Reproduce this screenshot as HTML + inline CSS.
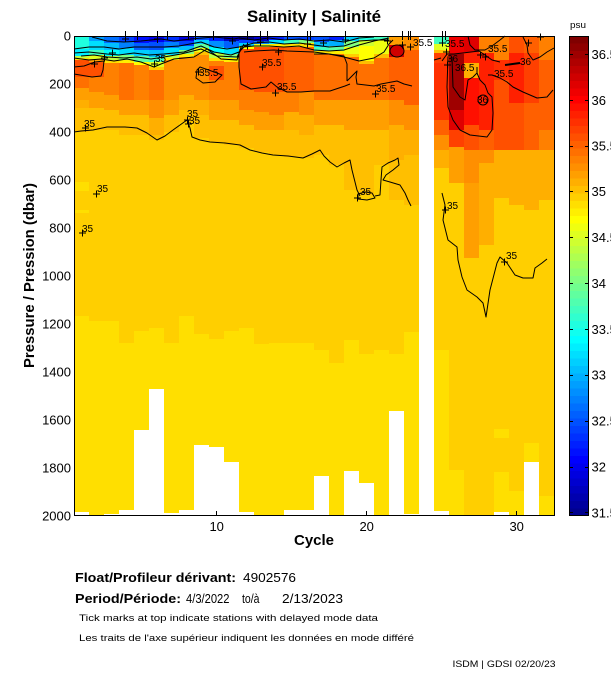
<!DOCTYPE html>
<html><head><meta charset="utf-8"><style>
html,body{margin:0;padding:0;background:#fff;}
svg{display:block;font-family:"Liberation Sans",Arial,Helvetica,sans-serif;}
</style></head><body>
<svg width="611" height="675" viewBox="0 0 611 675" xmlns="http://www.w3.org/2000/svg">
<rect x="0" y="0" width="611" height="675" fill="#fff"/>
<text x="247" y="22" font-size="17" font-weight="bold" textLength="134" lengthAdjust="spacingAndGlyphs">Salinity | Salinité</text>
<text x="570" y="28" font-size="9" textLength="16" lengthAdjust="spacingAndGlyphs">psu</text>
<g shape-rendering="crispEdges">
<rect x="74" y="36" width="480" height="480" fill="#FFDF00"/>
<!-- col1 -->
<rect x="74" y="36" width="15" height="13" fill="#20FFDF"/><rect x="74" y="49" width="15" height="7" fill="#00EFFF"/><rect x="74" y="56" width="15" height="2" fill="#BFFF40"/><rect x="74" y="58" width="15" height="2" fill="#FFDF00"/><rect x="74" y="60" width="15" height="17" fill="#FF5000"/><rect x="74" y="77" width="15" height="11" fill="#FF7000"/><rect x="74" y="88" width="15" height="12" fill="#FF9F00"/><rect x="74" y="100" width="15" height="8" fill="#FFAF00"/><rect x="74" y="108" width="15" height="24" fill="#FFBF00"/><rect x="74" y="132" width="15" height="184" fill="#FFCF00"/><rect x="74" y="182" width="15" height="9" fill="#FFDF00"/><rect x="74" y="210" width="15" height="3" fill="#FFDF00"/>
<!-- col2 -->
<rect x="89" y="36" width="15" height="5" fill="#009FFF"/><rect x="89" y="41" width="15" height="9" fill="#00DFFF"/><rect x="89" y="50" width="15" height="5" fill="#40FFBF"/><rect x="89" y="55" width="15" height="4" fill="#DFFF20"/><rect x="89" y="59" width="15" height="3" fill="#FF9F00"/><rect x="89" y="62" width="15" height="15" fill="#FF5000"/><rect x="89" y="77" width="15" height="15" fill="#FF8000"/><rect x="89" y="92" width="15" height="16" fill="#FF9F00"/><rect x="89" y="108" width="15" height="22" fill="#FFBF00"/><rect x="89" y="130" width="15" height="191" fill="#FFCF00"/>
<!-- col3 -->
<rect x="104" y="36" width="15" height="7" fill="#0070FF"/><rect x="104" y="43" width="15" height="7" fill="#00BFFF"/><rect x="104" y="50" width="15" height="6" fill="#00FFFF"/><rect x="104" y="56" width="15" height="4" fill="#BFFF40"/><rect x="104" y="60" width="15" height="3" fill="#FFDF00"/><rect x="104" y="63" width="15" height="32" fill="#FF8000"/><rect x="104" y="95" width="15" height="15" fill="#FF9F00"/><rect x="104" y="110" width="15" height="20" fill="#FFBF00"/><rect x="104" y="130" width="15" height="191" fill="#FFCF00"/>
<!-- col4 -->
<rect x="119" y="36" width="15" height="6" fill="#0040FF"/><rect x="119" y="42" width="15" height="6" fill="#0080FF"/><rect x="119" y="48" width="15" height="7" fill="#00DFFF"/><rect x="119" y="55" width="15" height="5" fill="#80FF80"/><rect x="119" y="60" width="15" height="3" fill="#FFEF00"/><rect x="119" y="63" width="15" height="37" fill="#FF7000"/><rect x="119" y="100" width="15" height="15" fill="#FF9F00"/><rect x="119" y="115" width="15" height="20" fill="#FFBF00"/><rect x="119" y="135" width="15" height="208" fill="#FFCF00"/>
<!-- col5 -->
<rect x="134" y="36" width="15" height="7" fill="#0010FF"/><rect x="134" y="43" width="15" height="7" fill="#0060FF"/><rect x="134" y="50" width="15" height="6" fill="#00CFFF"/><rect x="134" y="56" width="15" height="6" fill="#60FF9F"/><rect x="134" y="62" width="15" height="3" fill="#FFFF00"/><rect x="134" y="65" width="15" height="35" fill="#FF8000"/><rect x="134" y="100" width="15" height="15" fill="#FF9F00"/><rect x="134" y="115" width="15" height="20" fill="#FFBF00"/><rect x="134" y="135" width="15" height="196" fill="#FFCF00"/>
<!-- col6 -->
<rect x="149" y="36" width="15" height="6" fill="#0000EF"/><rect x="149" y="42" width="15" height="8" fill="#0050FF"/><rect x="149" y="50" width="15" height="7" fill="#00BFFF"/><rect x="149" y="57" width="15" height="5" fill="#40FFBF"/><rect x="149" y="62" width="15" height="5" fill="#DFFF20"/><rect x="149" y="67" width="15" height="3" fill="#FFCF00"/><rect x="149" y="70" width="15" height="30" fill="#FF7000"/><rect x="149" y="100" width="15" height="18" fill="#FF8F00"/><rect x="149" y="118" width="15" height="17" fill="#FFAF00"/><rect x="149" y="135" width="15" height="5" fill="#FFBF00"/><rect x="149" y="140" width="15" height="188" fill="#FFCF00"/>
<!-- col7 -->
<rect x="164" y="36" width="15" height="6" fill="#0030FF"/><rect x="164" y="42" width="15" height="6" fill="#0080FF"/><rect x="164" y="48" width="15" height="7" fill="#00DFFF"/><rect x="164" y="55" width="15" height="3" fill="#BFFF40"/><rect x="164" y="58" width="15" height="2" fill="#FFEF00"/><rect x="164" y="60" width="15" height="40" fill="#FF8F00"/><rect x="164" y="100" width="15" height="15" fill="#FF9F00"/><rect x="164" y="115" width="15" height="17" fill="#FFBF00"/><rect x="164" y="132" width="15" height="211" fill="#FFCF00"/>
<!-- col8 -->
<rect x="179" y="36" width="15" height="5" fill="#0000DF"/><rect x="179" y="41" width="15" height="5" fill="#0040FF"/><rect x="179" y="46" width="15" height="4" fill="#00BFFF"/><rect x="179" y="50" width="15" height="4" fill="#80FF80"/><rect x="179" y="54" width="15" height="3" fill="#FFEF00"/><rect x="179" y="57" width="15" height="38" fill="#FF8F00"/><rect x="179" y="95" width="15" height="15" fill="#FFAF00"/><rect x="179" y="110" width="15" height="12" fill="#FFBF00"/><rect x="179" y="122" width="15" height="194" fill="#FFCF00"/>
<!-- col9 -->
<rect x="194" y="36" width="15" height="4" fill="#0050FF"/><rect x="194" y="40" width="15" height="4" fill="#00CFFF"/><rect x="194" y="44" width="15" height="4" fill="#60FF9F"/><rect x="194" y="48" width="15" height="4" fill="#EFFF10"/><rect x="194" y="52" width="15" height="3" fill="#FFBF00"/><rect x="194" y="55" width="15" height="45" fill="#FF8F00"/><rect x="194" y="100" width="15" height="15" fill="#FFAF00"/><rect x="194" y="115" width="15" height="23" fill="#FFBF00"/><rect x="194" y="138" width="15" height="196" fill="#FFCF00"/>
<!-- col10 -->
<rect x="209" y="36" width="15" height="5" fill="#0020FF"/><rect x="209" y="41" width="15" height="6" fill="#008FFF"/><rect x="209" y="47" width="15" height="6" fill="#00FFFF"/><rect x="209" y="53" width="15" height="5" fill="#BFFF40"/><rect x="209" y="58" width="15" height="3" fill="#FFDF00"/><rect x="209" y="61" width="15" height="5" fill="#FF8000"/><rect x="209" y="66" width="15" height="14" fill="#FF5000"/><rect x="209" y="80" width="15" height="20" fill="#FF8000"/><rect x="209" y="100" width="15" height="20" fill="#FF9F00"/><rect x="209" y="120" width="15" height="22" fill="#FFBF00"/><rect x="209" y="142" width="15" height="197" fill="#FFCF00"/>
<!-- col11 -->
<rect x="224" y="36" width="15" height="5" fill="#0000BF"/><rect x="224" y="41" width="15" height="7" fill="#0060FF"/><rect x="224" y="48" width="15" height="6" fill="#00DFFF"/><rect x="224" y="54" width="15" height="4" fill="#80FF80"/><rect x="224" y="58" width="15" height="4" fill="#FFEF00"/><rect x="224" y="62" width="15" height="38" fill="#FF8000"/><rect x="224" y="100" width="15" height="20" fill="#FF9F00"/><rect x="224" y="120" width="15" height="25" fill="#FFBF00"/><rect x="224" y="145" width="15" height="186" fill="#FFCF00"/>
<!-- col12 -->
<rect x="239" y="36" width="15" height="4" fill="#00008F"/><rect x="239" y="40" width="15" height="3" fill="#0040FF"/><rect x="239" y="43" width="15" height="3" fill="#00CFFF"/><rect x="239" y="46" width="15" height="3" fill="#FFFF00"/><rect x="239" y="49" width="15" height="41" fill="#FF5000"/><rect x="239" y="90" width="15" height="20" fill="#FF8000"/><rect x="239" y="110" width="15" height="15" fill="#FF9F00"/><rect x="239" y="125" width="15" height="23" fill="#FFBF00"/><rect x="239" y="148" width="15" height="180" fill="#FFCF00"/>
<!-- col13 -->
<rect x="254" y="36" width="15" height="5" fill="#0000CF"/><rect x="254" y="41" width="15" height="3" fill="#0080FF"/><rect x="254" y="44" width="15" height="3" fill="#DFFF20"/><rect x="254" y="47" width="15" height="45" fill="#FF5000"/><rect x="254" y="92" width="15" height="20" fill="#FF8000"/><rect x="254" y="112" width="15" height="18" fill="#FF9F00"/><rect x="254" y="130" width="15" height="22" fill="#FFBF00"/><rect x="254" y="152" width="15" height="192" fill="#FFCF00"/>
<!-- col14 -->
<rect x="269" y="36" width="15" height="4" fill="#0020FF"/><rect x="269" y="40" width="15" height="4" fill="#00DFFF"/><rect x="269" y="44" width="15" height="3" fill="#FFEF00"/><rect x="269" y="47" width="15" height="45" fill="#FF5000"/><rect x="269" y="92" width="15" height="23" fill="#FF8000"/><rect x="269" y="115" width="15" height="15" fill="#FF9F00"/><rect x="269" y="130" width="15" height="25" fill="#FFBF00"/><rect x="269" y="155" width="15" height="188" fill="#FFCF00"/>
<!-- col15 -->
<rect x="284" y="36" width="15" height="4" fill="#0050FF"/><rect x="284" y="40" width="15" height="4" fill="#40FFBF"/><rect x="284" y="44" width="15" height="3" fill="#FFDF00"/><rect x="284" y="47" width="15" height="45" fill="#FF6000"/><rect x="284" y="92" width="15" height="20" fill="#FF8000"/><rect x="284" y="112" width="15" height="18" fill="#FFAF00"/><rect x="284" y="130" width="15" height="27" fill="#FFBF00"/><rect x="284" y="157" width="15" height="186" fill="#FFCF00"/>
<!-- col16 -->
<rect x="299" y="36" width="15" height="4" fill="#0040FF"/><rect x="299" y="40" width="15" height="3" fill="#80FF80"/><rect x="299" y="43" width="15" height="4" fill="#FFDF00"/><rect x="299" y="47" width="15" height="45" fill="#FF6000"/><rect x="299" y="92" width="15" height="23" fill="#FF8F00"/><rect x="299" y="115" width="15" height="20" fill="#FFAF00"/><rect x="299" y="135" width="15" height="23" fill="#FFBF00"/><rect x="299" y="158" width="15" height="185" fill="#FFCF00"/>
<!-- col17 -->
<rect x="314" y="36" width="15" height="6" fill="#0050FF"/><rect x="314" y="42" width="15" height="5" fill="#00BFFF"/><rect x="314" y="47" width="15" height="4" fill="#40FFBF"/><rect x="314" y="51" width="15" height="3" fill="#FFDF00"/><rect x="314" y="54" width="15" height="46" fill="#FF7000"/><rect x="314" y="100" width="15" height="25" fill="#FF9F00"/><rect x="314" y="125" width="15" height="30" fill="#FFBF00"/><rect x="314" y="155" width="15" height="195" fill="#FFCF00"/>
<!-- col18 -->
<rect x="329" y="36" width="15" height="4" fill="#0020FF"/><rect x="329" y="40" width="15" height="6" fill="#00AFFF"/><rect x="329" y="46" width="15" height="5" fill="#60FF9F"/><rect x="329" y="51" width="15" height="3" fill="#FFEF00"/><rect x="329" y="54" width="15" height="46" fill="#FF7000"/><rect x="329" y="100" width="15" height="25" fill="#FF9F00"/><rect x="329" y="125" width="15" height="40" fill="#FFBF00"/><rect x="329" y="165" width="15" height="198" fill="#FFCF00"/>
<!-- col19 -->
<rect x="344" y="36" width="15" height="5" fill="#00CFFF"/><rect x="344" y="41" width="15" height="6" fill="#80FF80"/><rect x="344" y="47" width="15" height="7" fill="#EFFF10"/><rect x="344" y="54" width="15" height="3" fill="#FFCF00"/><rect x="344" y="57" width="15" height="43" fill="#FF7000"/><rect x="344" y="100" width="15" height="30" fill="#FF9F00"/><rect x="344" y="130" width="15" height="60" fill="#FFBF00"/><rect x="344" y="190" width="15" height="150" fill="#FFCF00"/>
<!-- col20 -->
<rect x="359" y="36" width="15" height="4" fill="#20FFDF"/><rect x="359" y="40" width="15" height="6" fill="#CFFF30"/><rect x="359" y="46" width="15" height="15" fill="#FFFF00"/><rect x="359" y="61" width="15" height="3" fill="#FFBF00"/><rect x="359" y="64" width="15" height="36" fill="#FF7000"/><rect x="359" y="100" width="15" height="30" fill="#FF9F00"/><rect x="359" y="130" width="15" height="65" fill="#FFBF00"/><rect x="359" y="195" width="15" height="159" fill="#FFCF00"/>
<!-- col21 -->
<rect x="374" y="36" width="15" height="4" fill="#40FFBF"/><rect x="374" y="40" width="15" height="14" fill="#EFFF10"/><rect x="374" y="54" width="15" height="4" fill="#FFBF00"/><rect x="374" y="58" width="15" height="42" fill="#FF7000"/><rect x="374" y="100" width="15" height="30" fill="#FF9F00"/><rect x="374" y="130" width="15" height="35" fill="#FFBF00"/><rect x="374" y="165" width="15" height="185" fill="#FFCF00"/>
<!-- col22 -->
<rect x="389" y="36" width="15" height="9" fill="#FF9F00"/><rect x="389" y="45" width="15" height="12" fill="#CF0000"/><rect x="389" y="57" width="15" height="43" fill="#FF6000"/><rect x="389" y="100" width="15" height="25" fill="#FF8F00"/><rect x="389" y="125" width="15" height="35" fill="#FFAF00"/><rect x="389" y="160" width="15" height="40" fill="#FFBF00"/><rect x="389" y="200" width="15" height="154" fill="#FFCF00"/>
<!-- col23 -->
<rect x="404" y="36" width="15" height="14" fill="#FF8F00"/><rect x="404" y="50" width="15" height="55" fill="#FF6000"/><rect x="404" y="105" width="15" height="25" fill="#FF8F00"/><rect x="404" y="130" width="15" height="25" fill="#FFAF00"/><rect x="404" y="155" width="15" height="50" fill="#FFBF00"/><rect x="404" y="205" width="15" height="127" fill="#FFCF00"/>
<!-- col25 -->
<rect x="434" y="36" width="15" height="8" fill="#40FFBF"/><rect x="434" y="44" width="15" height="6" fill="#DFFF20"/><rect x="434" y="50" width="15" height="3" fill="#FFBF00"/><rect x="434" y="53" width="15" height="10" fill="#FF4000"/><rect x="434" y="63" width="15" height="57" fill="#FF3000"/><rect x="434" y="120" width="15" height="15" fill="#FF6000"/><rect x="434" y="135" width="15" height="15" fill="#FF8F00"/><rect x="434" y="150" width="15" height="18" fill="#FFAF00"/><rect x="434" y="168" width="15" height="182" fill="#FFCF00"/>
<!-- col26 -->
<rect x="449" y="36" width="15" height="18" fill="#EF0000"/><rect x="449" y="54" width="15" height="56" fill="#9F0000"/><rect x="449" y="110" width="15" height="20" fill="#DF0000"/><rect x="449" y="130" width="15" height="17" fill="#FF4000"/><rect x="449" y="147" width="15" height="36" fill="#FF9F00"/><rect x="449" y="183" width="15" height="287" fill="#FFCF00"/>
<!-- col27 -->
<rect x="464" y="36" width="15" height="16" fill="#DF0000"/><rect x="464" y="52" width="15" height="11" fill="#FF2000"/><rect x="464" y="63" width="15" height="15" fill="#FFAF00"/><rect x="464" y="78" width="15" height="47" fill="#FF1000"/><rect x="464" y="125" width="15" height="25" fill="#FF5000"/><rect x="464" y="150" width="15" height="33" fill="#FF8F00"/><rect x="464" y="183" width="15" height="75" fill="#FF9F00"/><rect x="464" y="258" width="15" height="258" fill="#FFCF00"/>
<!-- col28 -->
<rect x="479" y="36" width="15" height="17" fill="#FF8000"/><rect x="479" y="53" width="15" height="77" fill="#FF2000"/><rect x="479" y="130" width="15" height="20" fill="#FF6000"/><rect x="479" y="150" width="15" height="13" fill="#FF8F00"/><rect x="479" y="163" width="15" height="82" fill="#FFAF00"/><rect x="479" y="245" width="15" height="271" fill="#FFCF00"/>
<!-- col29 -->
<rect x="494" y="36" width="15" height="24" fill="#FF8000"/><rect x="494" y="60" width="15" height="20" fill="#FF3000"/><rect x="494" y="80" width="15" height="70" fill="#FF5000"/><rect x="494" y="150" width="15" height="48" fill="#FFAF00"/><rect x="494" y="198" width="15" height="231" fill="#FFCF00"/><rect x="494" y="438" width="15" height="34" fill="#FFCF00"/>
<!-- col30 -->
<rect x="509" y="36" width="15" height="17" fill="#FF5000"/><rect x="509" y="53" width="15" height="50" fill="#FF2000"/><rect x="509" y="103" width="15" height="47" fill="#FF5000"/><rect x="509" y="150" width="15" height="55" fill="#FFAF00"/><rect x="509" y="205" width="15" height="286" fill="#FFCF00"/>
<!-- col31 -->
<rect x="524" y="36" width="15" height="17" fill="#FF6000"/><rect x="524" y="53" width="15" height="50" fill="#FF4000"/><rect x="524" y="103" width="15" height="47" fill="#FF6000"/><rect x="524" y="150" width="15" height="60" fill="#FFAF00"/><rect x="524" y="210" width="15" height="233" fill="#FFCF00"/>
<!-- col32 -->
<rect x="539" y="36" width="15" height="24" fill="#FF8000"/><rect x="539" y="60" width="15" height="70" fill="#FF6000"/><rect x="539" y="130" width="15" height="20" fill="#FF8000"/><rect x="539" y="150" width="15" height="50" fill="#FFAF00"/><rect x="539" y="200" width="15" height="296" fill="#FFCF00"/>
<!-- white gaps -->
<g fill="#fff">
<rect x="74" y="512" width="15" height="4"/><rect x="104" y="514" width="15" height="2"/><rect x="119" y="510" width="15" height="6"/><rect x="134" y="430" width="15" height="86"/><rect x="149" y="389" width="15" height="127"/><rect x="164" y="513" width="15" height="3"/><rect x="179" y="510" width="15" height="6"/><rect x="194" y="445" width="15" height="71"/><rect x="209" y="447" width="15" height="69"/><rect x="224" y="462" width="15" height="54"/><rect x="239" y="512" width="15" height="4"/><rect x="254" y="515" width="15" height="1"/><rect x="269" y="515" width="15" height="1"/><rect x="284" y="510" width="15" height="6"/><rect x="299" y="510" width="15" height="6"/><rect x="314" y="476" width="15" height="40"/><rect x="329" y="515" width="15" height="1"/><rect x="344" y="471" width="15" height="45"/><rect x="359" y="483" width="15" height="33"/><rect x="374" y="515" width="15" height="1"/><rect x="389" y="411" width="15" height="105"/><rect x="404" y="514" width="15" height="2"/><rect x="419" y="36" width="15" height="480"/><rect x="434" y="511" width="15" height="5"/><rect x="494" y="512" width="15" height="4"/><rect x="524" y="462" width="15" height="54"/>
</g>
</g>
<!-- contour lines -->
<g fill="none" stroke="#000" stroke-width="1" stroke-linejoin="round">
<path d="M74,132 L81,131 L93,130 L107,127 L125,127 L137,128 L147,133 L157,140 L165,136 L173,130 L180,125 L187,120 L190,128 L192,137 L200,140 L210,142 L225,143 L240,145 L250,150 L262,153 L273,155 L288,156 L303,158 L312,154 L320,150 L324,156 L330,162 L337,167 L344,163 L350,160 L352,170 L355,182 L357,190 L360,196"/>
<path d="M358,194 L365,192 L372,193 L375,198 L367,200 L358,199 Z"/>
<path d="M375,196 L380,195 L381,180 L382,167 L388,163 L395,160 L398,158 L399,165 L393,170 L386,175 L383,180 L390,182 L400,185 L405,193 L408,200 L411,206"/>
<path d="M442,193 L445,205 L443,220 L445,228 L448,240 L457,247 L458,260 L462,277 L467,290 L477,297 L483,303 L486,317 L490,290 L497,263 L500,257 L507,263 L515,275 L523,278 L533,278 L535,268 L542,263 L547,259"/>
<path d="M92,37 L107,41 L124,42 L141,41 L161,39 L174,41 L191,39 L214,37 L234,39 L239,38 L254,40 L269,38 L284,40 L299,39 L314,41 L329,40 L344,42 L359,38 L374,37"/>
<path d="M74,49 L89,47 L104,47 L119,49 L134,47 L149,47 L164,47 L179,46 L201,42 L214,47 L227,49 L239,47 L254,43 L269,42 L284,44 L299,43 L314,45 L329,47 L344,46 L359,41 L374,40 L389,40"/>
<path d="M74,53 L89,52 L107,54 L119,55 L134,53 L149,55 L164,54 L184,52 L201,46 L214,52 L231,55 L239,52 L244,47 L254,46 L269,46 L284,47 L299,46 L314,50 L329,51 L344,50 L359,45 L374,41 L389,38"/>
<path d="M81,56 L94,55 L107,57 L124,58 L137,57 L151,59 L164,57 L181,54 L201,49 L217,56 L237,57 L244,44"/>
<path d="M74,58 L89,60 L101,59 L114,61 L127,59 L141,62 L154,67 L161,64 L174,59 L194,57 L207,49 L221,59 L237,60 L241,47"/>
<path d="M314,54 L329,54 L344,57 L359,61 L374,58 L384,52 L389,44 L393,40"/>
<path d="M74,67 L84,66 L95,62 L104,61 L103,70 L101,76 L92,77 L80,75 L74,74"/>
<path d="M196,78 L197,70 L200,67 L217,73 L222,75 L215,82 L203,83 Z"/>
<path d="M244,52 L254,51 L274,50 L287,51 L314,52 L329,54 L344,56 L347,64 L347,81"/>
<path d="M239,54 L239,67 L241,84 L251,89 L266,87 L271,82 L277,87 L287,92 L301,92 L314,91 L330,91 L345,86 L350,84"/>
<path d="M347,81 L357,71 L356,77 L357,84 L374,86 L381,84 L397,81 L404,84 L412,86"/>
<ellipse cx="397" cy="51" rx="7" ry="6"/>
<path d="M448,57 L447,87 L448,107 L453,120 L460,130 L470,135 L487,137 L492,130 L493,113 L492,97 L488,93 L485,85 L480,80 L477,73"/>
<path d="M452,57 L453,87 L460,97 L465,100 L467,87 L468,80 L473,77 L477,73 L477,67"/>
<path d="M442,61 L447,54 L454,54 L471,52 L479,51 L485,55 L492,60 L500,62"/>
<path d="M488,75 L492,75 L500,78 L507,82 L513,87 L523,92 L537,98 L547,97 L553,90"/>
<path d="M523,37 L527,45 L528,53 L533,60 L540,57 L547,52 L554,48"/>
<path d="M468,36 L470,45 L475,50 L485,50 L492,46 L500,40 L505,36"/>
<circle cx="483" cy="100" r="5"/>
<path d="M505,65 L520,63" stroke-width="2"/>
<path d="M434,60 L441,58"/>
</g>
<!-- top tick marks and + markers -->
<g stroke="#000" stroke-width="1" fill="none">
<path d="M125.5,31V42 M137.5,31V40 M157.5,31V43 M167.5,31V40 M188.5,31V40 M195.5,31V40 M213.5,31V40 M247.5,31V40 M260.5,31V40 M267.5,31V40 M287.5,31V40 M307.5,31V40 M310.5,31V40 M345.5,31V40 M402.5,31V40 M408.5,31V40 M410.5,31V40 M442.5,31V40 M445.5,31V40"/>
<path d="M122,39H129 M154,39H161"/>
<path d="M82,128H89M85.5,124.5V131.5 M93,194H100M96.5,190.5V197.5 M79,233H86M82.5,229.5V236.5 M184,120H191M187.5,116.5V123.5 M185,124H192M188.5,120.5V127.5 M354,198H361M357.5,194.5V201.5 M442,210H449M445.5,206.5V213.5 M501,262H508M504.5,258.5V265.5 M195,72H202M198.5,68.5V75.5 M259,67H266M262.5,63.5V70.5 M272,93H279M275.5,89.5V96.5 M372,94H379M375.5,90.5V97.5 M151,64H158M154.5,60.5V67.5 M91,64H98M94.5,60.5V67.5 M101,58H108M104.5,54.5V61.5 M109,53H116M112.5,49.5V56.5 M244,46H251M247.5,42.5V49.5 M257,42H264M260.5,38.5V45.5 M275,52H282M278.5,48.5V55.5 M304,44H311M307.5,40.5V47.5 M342,40H349M345.5,36.5V43.5 M399,45H406M402.5,41.5V48.5 M407,47H414M410.5,43.5V50.5 M439,43H446M442.5,39.5V46.5 M443,52H450M446.5,48.5V55.5 M444,65H451M447.5,61.5V68.5 M477,55H484M480.5,51.5V58.5 M482,57H489M485.5,53.5V60.5 M525,43H532M528.5,39.5V46.5 M537,37H544M540.5,33.5V40.5 M229,41H236M232.5,37.5V44.5 M320,43H327M323.5,39.5V46.5 M384,41H391M387.5,37.5V44.5"/>
</g>
<!-- contour labels -->
<g font-size="10" fill="#000">
<text x="84" y="127">35</text>
<text x="97" y="192">35</text>
<text x="82" y="232">35</text>
<text x="187" y="117">35</text>
<text x="189" y="124">35</text>
<text x="360" y="195">35</text>
<text x="447" y="209">35</text>
<text x="506" y="259">35</text>
<text x="155" y="62">35</text>
<text x="199" y="76">35.5</text>
<text x="262" y="66">35.5</text>
<text x="277" y="90">35.5</text>
<text x="376" y="92">35.5</text>
<text x="413" y="46">35.5</text>
<text x="445" y="47">35.5</text>
<text x="488" y="52">35.5</text>
<text x="494" y="77">35.5</text>
<text x="520" y="65">36</text>
<text x="447" y="62">36</text>
<text x="455" y="71">36.5</text>
<text x="477" y="103">36</text>
</g>
<!-- frame and axes -->
<path d="M74.5,36.5H554.5V515.5H74.5Z" fill="none" stroke="#000" stroke-width="1"/>
<path d="M216.5,511V516 M366.5,511V516 M516.5,511V516" stroke="#000" stroke-width="1"/>
<g font-size="13" text-anchor="end" fill="#000">
<text x="71" y="40.7">0</text><text x="71" y="88.7">200</text><text x="71" y="136.7">400</text><text x="71" y="184.7">600</text><text x="71" y="232.7">800</text><text x="71" y="280.7">1000</text><text x="71" y="328.7">1200</text><text x="71" y="376.7">1400</text><text x="71" y="424.7">1600</text><text x="71" y="472.7">1800</text><text x="71" y="520.7">2000</text>
</g>
<g font-size="13" text-anchor="middle" fill="#000">
<text x="216.7" y="531">10</text><text x="366.7" y="531">20</text><text x="516.7" y="531">30</text>
</g>
<text x="294" y="545" font-size="15" font-weight="bold" textLength="40" lengthAdjust="spacingAndGlyphs">Cycle</text>
<text transform="translate(34,275.5) rotate(-90)" text-anchor="middle" font-size="15" font-weight="bold" textLength="185" lengthAdjust="spacingAndGlyphs">Pressure / Pression (dbar)</text>
<!-- colorbar -->
<g shape-rendering="crispEdges">
<rect x="569" y="508.5" width="20" height="7.6" fill="#00008F"/><rect x="569" y="501" width="20" height="7.6" fill="#00009F"/><rect x="569" y="493.5" width="20" height="7.6" fill="#0000AF"/><rect x="569" y="486" width="20" height="7.6" fill="#0000BF"/><rect x="569" y="478.5" width="20" height="7.6" fill="#0000CF"/><rect x="569" y="471" width="20" height="7.6" fill="#0000DF"/><rect x="569" y="463.5" width="20" height="7.6" fill="#0000EF"/><rect x="569" y="456" width="20" height="7.6" fill="#0000FF"/>
<rect x="569" y="448.5" width="20" height="7.6" fill="#0010FF"/><rect x="569" y="441" width="20" height="7.6" fill="#0020FF"/><rect x="569" y="433.5" width="20" height="7.6" fill="#0030FF"/><rect x="569" y="426" width="20" height="7.6" fill="#0040FF"/><rect x="569" y="418.5" width="20" height="7.6" fill="#0050FF"/><rect x="569" y="411" width="20" height="7.6" fill="#0060FF"/><rect x="569" y="403.5" width="20" height="7.6" fill="#0070FF"/><rect x="569" y="396" width="20" height="7.6" fill="#0080FF"/>
<rect x="569" y="388.5" width="20" height="7.6" fill="#008FFF"/><rect x="569" y="381" width="20" height="7.6" fill="#009FFF"/><rect x="569" y="373.5" width="20" height="7.6" fill="#00AFFF"/><rect x="569" y="366" width="20" height="7.6" fill="#00BFFF"/><rect x="569" y="358.5" width="20" height="7.6" fill="#00CFFF"/><rect x="569" y="351" width="20" height="7.6" fill="#00DFFF"/><rect x="569" y="343.5" width="20" height="7.6" fill="#00EFFF"/><rect x="569" y="336" width="20" height="7.6" fill="#00FFFF"/>
<rect x="569" y="328.5" width="20" height="7.6" fill="#10FFEF"/><rect x="569" y="321" width="20" height="7.6" fill="#20FFDF"/><rect x="569" y="313.5" width="20" height="7.6" fill="#30FFCF"/><rect x="569" y="306" width="20" height="7.6" fill="#40FFBF"/><rect x="569" y="298.5" width="20" height="7.6" fill="#50FFAF"/><rect x="569" y="291" width="20" height="7.6" fill="#60FF9F"/><rect x="569" y="283.5" width="20" height="7.6" fill="#70FF8F"/><rect x="569" y="276" width="20" height="7.6" fill="#80FF80"/>
<rect x="569" y="268.5" width="20" height="7.6" fill="#8FFF70"/><rect x="569" y="261" width="20" height="7.6" fill="#9FFF60"/><rect x="569" y="253.5" width="20" height="7.6" fill="#AFFF50"/><rect x="569" y="246" width="20" height="7.6" fill="#BFFF40"/><rect x="569" y="238.5" width="20" height="7.6" fill="#CFFF30"/><rect x="569" y="231" width="20" height="7.6" fill="#DFFF20"/><rect x="569" y="223.5" width="20" height="7.6" fill="#EFFF10"/><rect x="569" y="216" width="20" height="7.6" fill="#FFFF00"/>
<rect x="569" y="208.5" width="20" height="7.6" fill="#FFEF00"/><rect x="569" y="201" width="20" height="7.6" fill="#FFDF00"/><rect x="569" y="193.5" width="20" height="7.6" fill="#FFCF00"/><rect x="569" y="186" width="20" height="7.6" fill="#FFBF00"/><rect x="569" y="178.5" width="20" height="7.6" fill="#FFAF00"/><rect x="569" y="171" width="20" height="7.6" fill="#FF9F00"/><rect x="569" y="163.5" width="20" height="7.6" fill="#FF8F00"/><rect x="569" y="156" width="20" height="7.6" fill="#FF8000"/>
<rect x="569" y="148.5" width="20" height="7.6" fill="#FF7000"/><rect x="569" y="141" width="20" height="7.6" fill="#FF6000"/><rect x="569" y="133.5" width="20" height="7.6" fill="#FF5000"/><rect x="569" y="126" width="20" height="7.6" fill="#FF4000"/><rect x="569" y="118.5" width="20" height="7.6" fill="#FF3000"/><rect x="569" y="111" width="20" height="7.6" fill="#FF2000"/><rect x="569" y="103.5" width="20" height="7.6" fill="#FF1000"/><rect x="569" y="96" width="20" height="7.6" fill="#FF0000"/>
<rect x="569" y="88.5" width="20" height="7.6" fill="#EF0000"/><rect x="569" y="81" width="20" height="7.6" fill="#DF0000"/><rect x="569" y="73.5" width="20" height="7.6" fill="#CF0000"/><rect x="569" y="66" width="20" height="7.6" fill="#BF0000"/><rect x="569" y="58.5" width="20" height="7.6" fill="#AF0000"/><rect x="569" y="51" width="20" height="7.6" fill="#9F0000"/><rect x="569" y="43.5" width="20" height="7.6" fill="#8F0000"/><rect x="569" y="36" width="20" height="7.6" fill="#800000"/>
</g>
<path d="M569.5,36.5H588.5V515.5H569.5Z" fill="none" stroke="#000" stroke-width="1"/>
<path d="M569,54.5H573M585,54.5H589 M569,100.5H573M585,100.5H589 M569,146.5H573M585,146.5H589 M569,191.5H573M585,191.5H589 M569,237.5H573M585,237.5H589 M569,283.5H573M585,283.5H589 M569,329.5H573M585,329.5H589 M569,375.5H573M585,375.5H589 M569,421.5H573M585,421.5H589 M569,467.5H573M585,467.5H589 M569,512.5H573M585,512.5H589" stroke="#000" stroke-width="1"/>
<g font-size="13" fill="#000">
<text x="591.5" y="59.2">36.5</text><text x="591.5" y="105">36</text><text x="591.5" y="150.7">35.5</text><text x="591.5" y="196.2">35</text><text x="591.5" y="242">34.5</text><text x="591.5" y="287.9">34</text><text x="591.5" y="333.8">33.5</text><text x="591.5" y="379.7">33</text><text x="591.5" y="425.5">32.5</text><text x="591.5" y="471.4">32</text><text x="591.5" y="517.3">31.5</text>
</g>
<!-- footer -->
<g fill="#000">
<text x="75" y="582" font-size="12.5" font-weight="bold" textLength="161" lengthAdjust="spacingAndGlyphs">Float/Profileur dérivant:</text>
<text x="243" y="582" font-size="12.5" textLength="53" lengthAdjust="spacingAndGlyphs">4902576</text>
<text x="75" y="603" font-size="12.5" font-weight="bold" textLength="106" lengthAdjust="spacingAndGlyphs">Period/Période:</text>
<text x="186" y="603" font-size="12.5" textLength="43.5" lengthAdjust="spacingAndGlyphs">4/3/2022</text>
<text x="242" y="603" font-size="12.5" textLength="17.5" lengthAdjust="spacingAndGlyphs">to/à</text>
<text x="282" y="603" font-size="12.5" textLength="61" lengthAdjust="spacingAndGlyphs">2/13/2023</text>
<text x="79" y="621" font-size="9" textLength="299" lengthAdjust="spacingAndGlyphs">Tick marks at top indicate stations with delayed mode data</text>
<text x="79" y="641" font-size="9" textLength="335" lengthAdjust="spacingAndGlyphs">Les traits de l'axe supérieur indiquent les données en mode différé</text>
<text x="452.5" y="667" font-size="9.5" textLength="103" lengthAdjust="spacingAndGlyphs">ISDM | GDSI 02/20/23</text>
</g>
</svg>
</body></html>
